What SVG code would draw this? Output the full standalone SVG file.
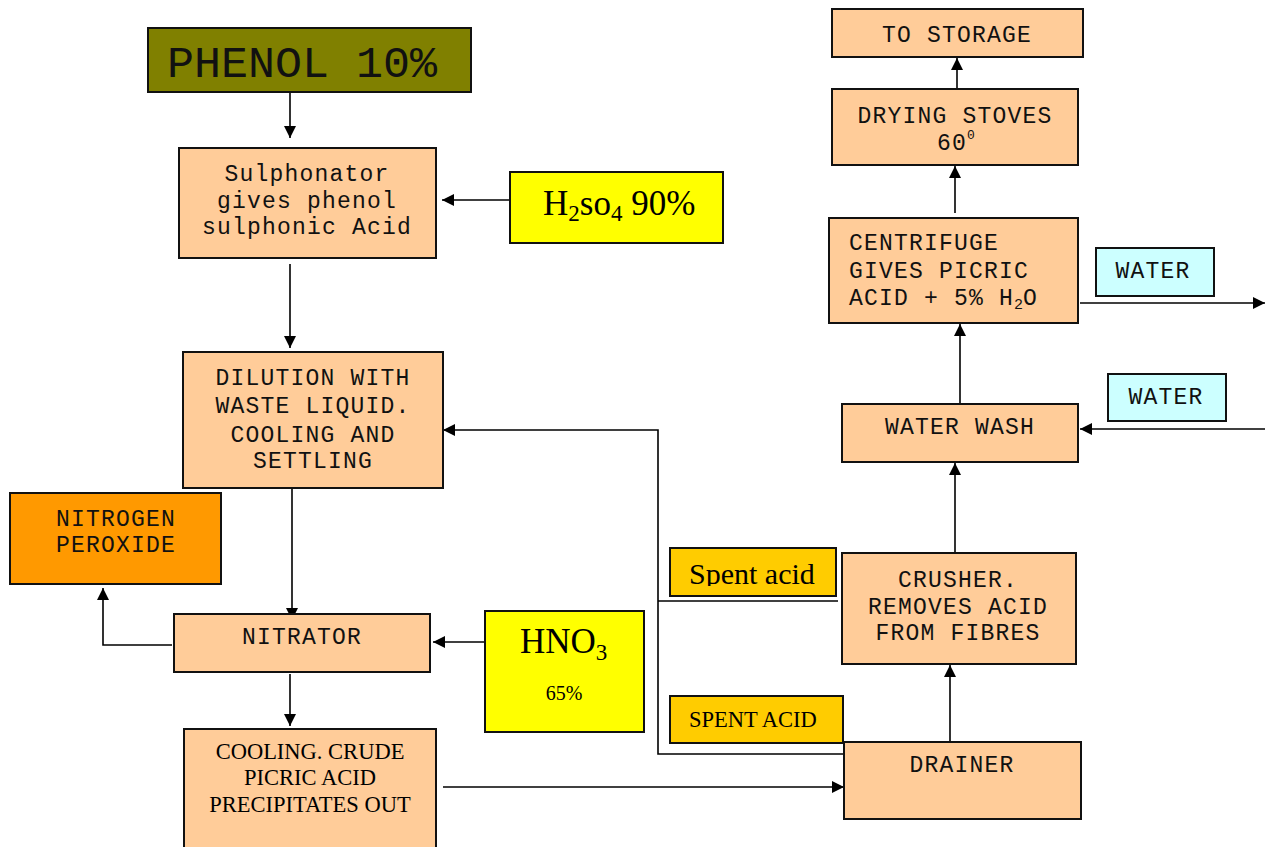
<svg xmlns="http://www.w3.org/2000/svg" width="1265" height="847" viewBox="0 0 1265 847">
<style>
.box{stroke:#111;stroke-width:2}
.peach{fill:#FFCC99}
.olive{fill:#808000}
.yellow{fill:#FFFF00}
.orange{fill:#FF9900}
.gold{fill:#FFCC00}
.cyan{fill:#CCFFFF}
.mono{font-family:"Courier New","Nimbus Mono PS","Liberation Mono",monospace;font-size:23px;letter-spacing:1.2px;fill:#111}
.serif{font-family:"Liberation Serif","Times New Roman",serif;fill:#000}
.c{text-anchor:middle}
.conn path{fill:none;stroke:#000;stroke-width:1.6}
</style>
<defs>
<marker id="ah" viewBox="0 0 10 10" refX="10" refY="5" markerWidth="13" markerHeight="12" markerUnits="userSpaceOnUse" orient="auto">
<path d="M0,0 L10,5 L0,10 z" fill="#000"/>
</marker>
<clipPath id="spclip"><rect x="670" y="548" width="166" height="38"/></clipPath>
</defs>
<rect width="1265" height="847" fill="#fff"/>

<g class="conn" id="connectors">
<path d="M290,92 V138" marker-end="url(#ah)"/>
<path d="M510,200 H442" marker-end="url(#ah)"/>
<path d="M290,264 V348" marker-end="url(#ah)"/>
<path d="M292,488 V620" marker-end="url(#ah)"/>
<path d="M172,645 H103 V588" marker-end="url(#ah)"/>
<path d="M485,642 H433" marker-end="url(#ah)"/>
<path d="M290,674 V726" marker-end="url(#ah)"/>
<path d="M443,787 H844" marker-end="url(#ah)"/>
<path d="M950,742 V665" marker-end="url(#ah)"/>
<path d="M955,553 V463" marker-end="url(#ah)"/>
<path d="M1265,429 H1080" marker-end="url(#ah)"/>
<path d="M960,404 V324" marker-end="url(#ah)"/>
<path d="M1080,303 H1265" marker-end="url(#ah)"/>
<path d="M955,213 V166" marker-end="url(#ah)"/>
<path d="M957,89 V58" marker-end="url(#ah)"/>
<path d="M843,754 H658 V430 H443" marker-end="url(#ah)"/>
<path d="M838,601 H658"/>
</g>

<g id="phenol">
<rect class="box olive" x="148" y="28" width="323" height="64"/>
<text class="mono c" x="302" y="77" style="font-size:45px;letter-spacing:0">PHENOL 10%</text>
</g>

<g id="sulphonator">
<rect class="box peach" x="179" y="148" width="257" height="110"/>
<text class="mono c" x="307" y="181">Sulphonator</text>
<text class="mono c" x="307" y="208">gives phenol</text>
<text class="mono c" x="307" y="234">sulphonic Acid</text>
</g>

<g id="h2so4">
<rect class="box yellow" x="510" y="172" width="213" height="71"/>
<text class="serif" x="543" y="215" style="font-size:35px">H<tspan dy="6" style="font-size:23px">2</tspan><tspan dy="-6">so</tspan><tspan dy="6" style="font-size:23px">4</tspan><tspan dy="-6"> 90%</tspan></text>
</g>

<g id="dilution">
<rect class="box peach" x="183" y="352" width="260" height="136"/>
<text class="mono c" x="313" y="385">DILUTION WITH</text>
<text class="mono c" x="313" y="413">WASTE LIQUID.</text>
<text class="mono c" x="313" y="442">COOLING AND</text>
<text class="mono c" x="313" y="468">SETTLING</text>
</g>

<g id="nitrogen-peroxide">
<rect class="box orange" x="10" y="493" width="211" height="91"/>
<text class="mono c" x="116" y="526">NITROGEN</text>
<text class="mono c" x="116" y="552">PEROXIDE</text>
</g>

<g id="nitrator">
<rect class="box peach" x="174" y="614" width="256" height="58"/>
<text class="mono c" x="302" y="644">NITRATOR</text>
</g>

<g id="hno3">
<rect class="box yellow" x="485" y="611" width="159" height="121"/>
<text class="serif" x="520" y="653" style="font-size:35px">HNO<tspan dy="7" style="font-size:23px">3</tspan></text>
<text class="serif c" x="564" y="700" style="font-size:20px">65%</text>
</g>

<g id="cooling">
<rect class="box peach" x="184" y="729" width="252" height="125"/>
<text class="serif c" x="310" y="759" style="font-size:22.5px">COOLING. CRUDE</text>
<text class="serif c" x="310" y="785" style="font-size:22.5px">PICRIC ACID</text>
<text class="serif c" x="310" y="812" style="font-size:22.5px">PRECIPITATES OUT</text>
</g>

<g id="spent-acid-1">
<rect class="box gold" x="670" y="548" width="166" height="48"/>
<text class="serif" x="689" y="584" style="font-size:30px" clip-path="url(#spclip)">Spent acid</text>
</g>

<g id="spent-acid-2">
<rect class="box gold" x="670" y="696" width="173" height="47"/>
<text class="serif" x="689" y="727" style="font-size:22.5px">SPENT ACID</text>
</g>

<g id="drainer">
<rect class="box peach" x="844" y="742" width="237" height="77"/>
<text class="mono c" x="962" y="772">DRAINER</text>
</g>

<g id="crusher">
<rect class="box peach" x="842" y="553" width="234" height="111"/>
<text class="mono c" x="958" y="587">CRUSHER.</text>
<text class="mono c" x="958" y="614">REMOVES ACID</text>
<text class="mono c" x="958" y="640">FROM FIBRES</text>
</g>

<g id="water-wash">
<rect class="box peach" x="842" y="404" width="236" height="58"/>
<text class="mono c" x="960" y="434">WATER WASH</text>
</g>

<g id="water-in">
<rect class="box cyan" x="1108" y="374" width="118" height="47"/>
<text class="mono c" x="1166" y="404">WATER</text>
</g>

<g id="centrifuge">
<rect class="box peach" x="829" y="218" width="249" height="105"/>
<text class="mono" x="849" y="250">CENTRIFUGE</text>
<text class="mono" x="849" y="278">GIVES PICRIC</text>
<text class="mono" x="849" y="305">ACID + 5% H<tspan dy="4" style="font-size:15px;letter-spacing:0">2</tspan><tspan dy="-4">O</tspan></text>
</g>

<g id="water-out">
<rect class="box cyan" x="1096" y="248" width="118" height="48"/>
<text class="mono c" x="1153" y="278">WATER</text>
</g>

<g id="drying-stoves">
<rect class="box peach" x="832" y="89" width="246" height="76"/>
<text class="mono c" x="955" y="123">DRYING STOVES</text>
<text class="mono" x="937" y="150">60<tspan dy="-11" style="font-size:13px;letter-spacing:0">0</tspan></text>
</g>

<g id="to-storage">
<rect class="box peach" x="832" y="9" width="251" height="48"/>
<text class="mono c" x="957" y="42">TO STORAGE</text>
</g>
</svg>
